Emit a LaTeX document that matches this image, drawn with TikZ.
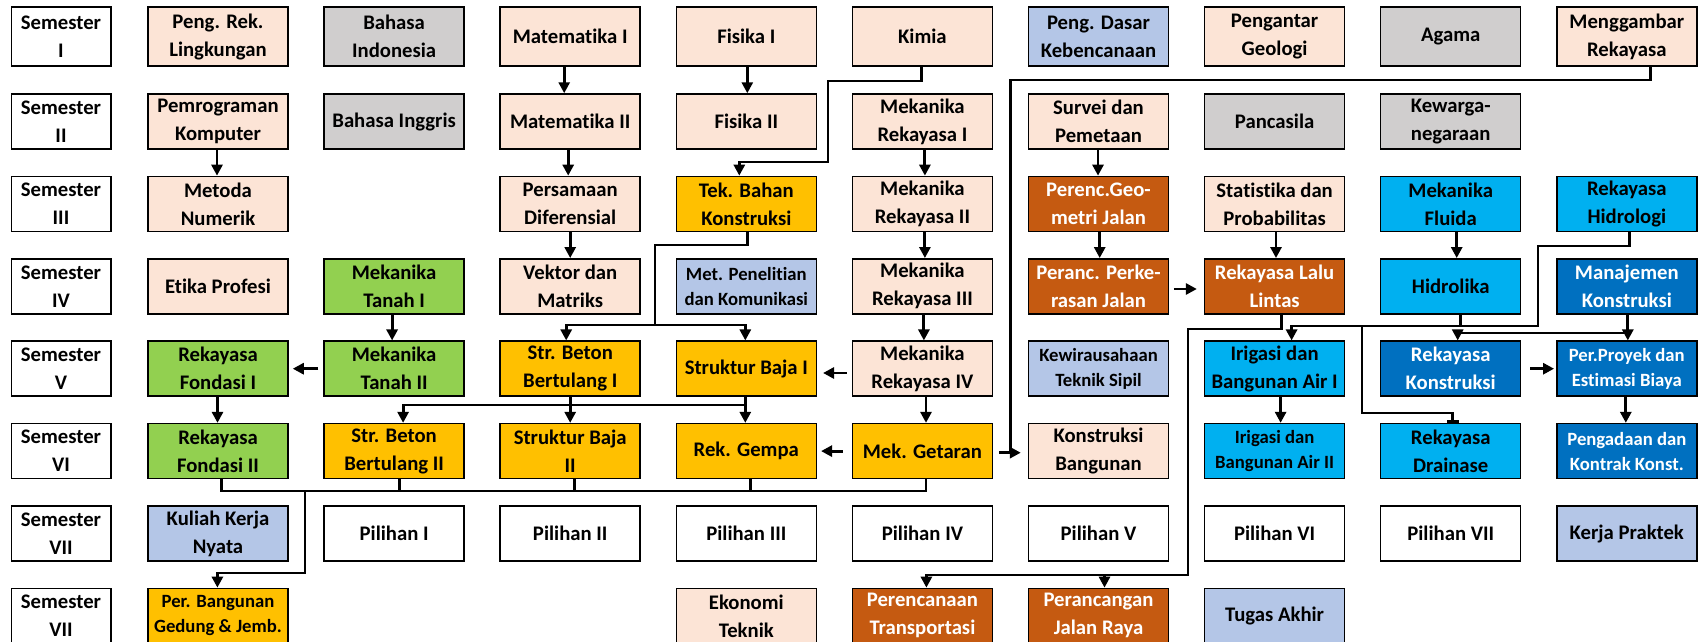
\documentclass[tikz,border=0pt]{standalone}
\usepackage{fontspec}
\setmainfont{Carlito}[Ligatures={NoCommon}]
\usetikzlibrary{arrows.meta,calc}
\definecolor{cpeach}{HTML}{FCE4D6}
\definecolor{cgray}{HTML}{D0CECE}
\definecolor{clav}{HTML}{B4C6E7}
\definecolor{cgreen}{HTML}{92D050}
\definecolor{cgold}{HTML}{FFC000}
\definecolor{corange}{HTML}{C55A11}
\definecolor{ccyan}{HTML}{00B0F0}
\definecolor{cblue}{HTML}{0070C0}
\newcommand\bodyfnt{\fontsize{20.7pt}{28pt}\selectfont\bfseries}
\newcommand\smallfnt{\fontsize{18.7pt}{25pt}\selectfont\bfseries}
\tikzset{
  box/.style={draw=black, line width=1.5pt, minimum width=140pt, minimum height=55pt,
    inner sep=0pt, align=center, font=\bodyfnt, text=black},
  tall/.style={minimum height=59pt},
  semb/.style={box, minimum width=99.5pt, fill=white},
  bxpeach/.style={box, fill=cpeach},
  bxgray/.style={box, fill=cgray},
  bxlav/.style={box, fill=clav},
  bxgreen/.style={box, fill=cgreen},
  bxgold/.style={box, fill=cgold},
  bxorange/.style={box, fill=corange, text=white},
  bxcyan/.style={box, fill=ccyan},
  bxblue/.style={box, fill=cblue, text=white},
  bxwhite/.style={box, fill=white},
  sm/.style={font=\smallfnt},
  conn/.style={line width=2.9pt, draw=black},
  arr/.style={conn, -{Triangle[width=11pt,length=11pt]}}
}
\begin{document}
\begin{tikzpicture}[x=1pt,y=-1pt]
\useasboundingbox[fill=white] (0,0) rectangle (1699,642);
% ---------- Row I
\node[semb,tall] (s1) at (61,36.5) {Semester\\I};
\node[bxpeach,tall] (plk) at (218,36.5) {Peng. Rek.\\Lingkungan};
\node[bxgray,tall] (bind) at (394.1,36.5) {Bahasa\\Indonesia};
\node[bxpeach,tall] (mat1) at (570.2,36.5) {Matematika I};
\node[bxpeach,tall] (fis1) at (746.3,36.5) {Fisika I};
\node[bxpeach,tall] (kim) at (922.4,36.5) {Kimia};
\node[bxlav,tall] (pdk) at (1098.5,36.5) {Peng. Dasar\\Kebencanaan};
\node[bxpeach,tall] (geo) at (1274.6,36.5) {Pengantar\\Geologi};
\node[bxgray,tall] (aga) at (1450.7,36.5) {Agama};
\node[bxpeach,tall] (mgr) at (1626.8,36.5) {Menggambar\\Rekayasa};
% ---------- Row II
\node[semb] (s2) at (61,121.5) {Semester\\II};
\node[bxpeach] (pkom) at (218,121.5) {Pemrograman\\Komputer};
\node[bxgray] (bing) at (394.1,121.5) {Bahasa Inggris};
\node[bxpeach] (mat2) at (570.2,121.5) {Matematika II};
\node[bxpeach] (fis2) at (746.3,121.5) {Fisika II};
\node[bxpeach] (mr1) at (922.4,121.5) {Mekanika\\Rekayasa I};
\node[bxpeach] (svy) at (1098.5,121.5) {Survei dan\\Pemetaan};
\node[bxgray] (pan) at (1274.6,121.5) {Pancasila};
\node[bxgray] (kwn) at (1450.7,121.5) {Kewarga-\\negaraan};
% ---------- Row III
\node[semb] (s3) at (61,203.9) {Semester\\III};
\node[bxpeach] (mnum) at (218,203.9) {Metoda\\Numerik};
\node[bxpeach] (pdif) at (570.2,203.9) {Persamaan\\Diferensial};
\node[bxgold] (tbk) at (746.3,203.9) {Tek. Bahan\\Konstruksi};
\node[bxpeach] (mr2) at (922.4,203.9) {Mekanika\\Rekayasa II};
\node[bxorange] (pgj) at (1098.5,203.9) {Perenc.Geo-\\metri Jalan};
\node[bxpeach] (stat) at (1274.6,203.9) {Statistika dan\\Probabilitas};
\node[bxcyan] (mfl) at (1450.7,203.9) {Mekanika\\Fluida};
\node[bxcyan] (rhid) at (1626.8,203.9) {Rekayasa\\Hidrologi};
% ---------- Row IV
\node[semb] (s4) at (61,286.3) {Semester\\IV};
\node[bxpeach] (etk) at (218,286.3) {Etika Profesi};
\node[bxgreen] (mt1) at (394.1,286.3) {Mekanika\\Tanah I};
\node[bxpeach] (vek) at (570.2,286.3) {Vektor dan\\Matriks};
\node[bxlav,sm] (mpk) at (746.3,286.3) {Met. Penelitian\\dan Komunikasi};
\node[bxpeach] (mr3) at (922.4,286.3) {Mekanika\\Rekayasa III};
\node[bxorange] (ppj) at (1098.5,286.3) {Peranc. Perke-\\rasan Jalan};
\node[bxorange] (rll) at (1274.6,286.3) {Rekayasa Lalu\\Lintas};
\node[bxcyan] (hid) at (1450.7,286.3) {Hidrolika};
\node[bxblue] (mjk) at (1626.8,286.3) {Manajemen\\Konstruksi};
% ---------- Row V
\node[semb] (s5) at (61,368.7) {Semester\\V};
\node[bxgreen] (rf1) at (218,368.7) {Rekayasa\\Fondasi I};
\node[bxgreen] (mt2) at (394.1,368.7) {Mekanika\\Tanah II};
\node[bxgold] (sbb1) at (570.2,368.7) {Str. Beton\\Bertulang I};
\node[bxgold] (sbj1) at (746.3,368.7) {Struktur Baja I};
\node[bxpeach] (mr4) at (922.4,368.7) {Mekanika\\Rekayasa IV};
\node[bxlav,sm] (kwt) at (1098.5,368.7) {Kewirausahaan\\Teknik Sipil};
\node[bxcyan] (iba1) at (1274.6,368.7) {Irigasi dan\\Bangunan Air I};
\node[bxblue] (rks) at (1450.7,368.7) {Rekayasa\\Konstruksi};
\node[bxblue,sm] (ppe) at (1626.8,368.7) {Per.Proyek dan\\Estimasi Biaya};
% ---------- Row VI
\node[semb] (s6) at (61,451.1) {Semester\\VI};
\node[bxgreen] (rf2) at (218,451.1) {Rekayasa\\Fondasi II};
\node[bxgold] (sbb2) at (394.1,451.1) {Str. Beton\\Bertulang II};
\node[bxgold] (sbj2) at (570.2,451.1) {Struktur Baja\\II};
\node[bxgold] (rgm) at (746.3,451.1) {Rek. Gempa};
\node[bxgold] (mgt) at (922.4,451.1) {Mek. Getaran};
\node[bxpeach] (kbg) at (1098.5,451.1) {Konstruksi\\Bangunan};
\node[bxcyan,sm] (iba2) at (1274.6,451.1) {Irigasi dan\\Bangunan Air II};
\node[bxcyan] (rdr) at (1450.7,451.1) {Rekayasa\\Drainase};
\node[bxblue,sm] (pkk) at (1626.8,451.1) {Pengadaan dan\\Kontrak Konst.};
% ---------- Row VII
\node[semb] (s7) at (61,533.5) {Semester\\VII};
\node[bxlav] (kkn) at (218,533.5) {Kuliah Kerja\\Nyata};
\node[bxwhite] (p1) at (394.1,533.5) {Pilihan I};
\node[bxwhite] (p2) at (570.2,533.5) {Pilihan II};
\node[bxwhite] (p3) at (746.3,533.5) {Pilihan III};
\node[bxwhite] (p4) at (922.4,533.5) {Pilihan IV};
\node[bxwhite] (p5) at (1098.5,533.5) {Pilihan V};
\node[bxwhite] (p6) at (1274.6,533.5) {Pilihan VI};
\node[bxwhite] (p7) at (1450.7,533.5) {Pilihan VII};
\node[bxlav] (kp) at (1626.8,533.5) {Kerja Praktek};
% ---------- Row VIII
\node[semb] (s8) at (61,615.9) {Semester\\VII};
\node[bxgold,sm] (pbg) at (218,615.9) {Per. Bangunan\\Gedung \& Jemb.};
\node[bxpeach] (ekt) at (746.3,615.9) {Ekonomi\\Teknik};
\node[bxorange] (ptr) at (922.4,615.9) {Perencanaan\\Transportasi};
\node[bxorange] (pjr) at (1098.5,615.9) {Perancangan\\Jalan Raya};
\node[bxlav] (ta) at (1274.6,615.9) {Tugas Akhir};

% ---------- connectors
\draw[arr] ([xshift=-6pt]mat1.south) -- ([xshift=-6pt]mat2.north);
\draw[arr] ([xshift=-2pt]mat2.south) -- ([xshift=-2pt]pdif.north);
\draw[arr] (pdif.south) -- (vek.north);
\draw[arr] ([xshift=-1pt]pkom.south) -- ([xshift=-1pt]mnum.north);
\draw[arr] ([xshift=1pt]fis1.south) -- ([xshift=1pt]fis2.north);
\draw[arr] ([xshift=-1pt]kim.south) |- (828,81) -- (828,162) -| ([xshift=-7pt]tbk.north);
\draw[arr] ([xshift=2.5pt]mr1.south) -- ([xshift=2.5pt]mr2.north);
\draw[arr] ([xshift=2.5pt]mr2.south) -- ([xshift=2.5pt]mr3.north);
\draw[arr] ([xshift=1.5pt]mr3.south) -- ([xshift=1.5pt]mr4.north);
\draw[arr] ([xshift=-2pt]mt1.south) -- ([xshift=-2pt]mt2.north);
% Tek. Bahan -> Str. Beton I, Struktur Baja I
\coordinate (busA) at (655,325);
\draw[arr] ([xshift=1pt]tbk.south) |- (655,245) -- (busA) -| ([xshift=-4pt]sbb1.north);
\draw[arr] (busA) -| ([xshift=-1pt]sbj1.north);
% horizontal arrows
\draw[arr, shorten <=5pt, shorten >=6pt] ([yshift=-4.3pt]mr4.west) -- ([yshift=-4.3pt]sbj1.east);
\draw[arr, shorten <=5pt, shorten >=4pt] (mt2.west) -- (rf1.east);
\draw[arr, shorten <=9pt, shorten >=4pt] (mgt.west) -- (rgm.east);
\draw[arr, shorten <=6pt, shorten >=7pt] ([yshift=-1.6pt]mgt.east) -- ([yshift=-1.6pt]kbg.west);
\draw[arr, shorten <=4.5pt, shorten >=7pt] ([yshift=-2.7pt]ppj.east) -- ([yshift=-2.7pt]rll.west);
\draw[arr, shorten <=9pt, shorten >=2pt] (rks.east) -- (ppe.west);
% Rekayasa Fondasi
\draw[arr] ([xshift=-0.5pt]rf1.south) -- ([xshift=-0.5pt]rf2.north);
% Str Beton I / Struktur Baja I -> row VI
\draw[arr] (sbb1.south) -- (sbj2.north);
\draw[arr] ([xshift=-1pt]sbj1.south) -- ([xshift=-1pt]rgm.north);
\coordinate (busB) at (745.3,405);
\draw[arr] (busB) -| ([xshift=9pt]sbb2.north);
% Mek Rek IV -> Mek Getaran
\draw[arr] ([xshift=3.6pt]mr4.south) -- ([xshift=3.6pt]mgt.north);
% Menggambar Rekayasa -> Konstruksi Bangunan
\draw[conn] ([xshift=24pt]mgr.south) |- (1010.5,80) -- (1010.5,454);
% bottom bus of row VI -> Per. Bangunan
\coordinate (busC) at (0,491);
\draw[conn] ([xshift=3.7pt]rf2.south) |- ([xshift=3.6pt]busC -| mgt.south) -- ([xshift=3.6pt]mgt.south);
\draw[conn] ([xshift=5pt]sbb2.south) -- ([xshift=5pt]sbb2.south |- busC);
\draw[conn] ([xshift=4pt]sbj2.south) -- ([xshift=4pt]sbj2.south |- busC);
\draw[conn] ([xshift=4pt]rgm.south) -- ([xshift=4pt]rgm.south |- busC);
\draw[arr] (305,491) -- (305,573) -| ([xshift=-0.6pt]pbg.north);
% Survei -> Perenc. Geometri -> Peranc. Perkerasan
\draw[arr] ([xshift=-0.5pt]svy.south) -- ([xshift=-0.5pt]pgj.north);
\draw[arr] ([xshift=1.2pt]pgj.south) -- ([xshift=1.2pt]ppj.north);
\draw[arr] ([xshift=1.4pt]stat.south) -- ([xshift=1.4pt]rll.north);
\draw[arr] ([xshift=6pt]mfl.south) -- ([xshift=6pt]hid.north);
% Rekayasa Lalu Lintas -> Perencanaan Transportasi, Perancangan Jalan Raya
\coordinate (busD) at (1104.5,575);
\draw[arr] ([xshift=6.5pt]rll.south) |- (1188,329) -- (1188,575) -| ([xshift=4pt]ptr.north);
\draw[arr] (busD) -- (busD |- pjr.north);
% Rekayasa Hidrologi / Hidrolika -> Irigasi I, Drainase
\coordinate (busE) at (1538,326);
\draw[arr] ([xshift=3pt]rhid.south) |- (1538,246) -- (busE) -| ([xshift=17pt]iba1.north);
\draw[conn] ([xshift=10pt]hid.south) -- ([xshift=10pt]hid.south |- busE);
\draw[conn] (1362,326) -- (1362,413) -| ([xshift=2pt]rdr.north);
\draw[conn] (1447,421.5) -- (1458.5,421.5);
% Manajemen -> Per.Proyek, Rekayasa Konstruksi
\draw[arr] ([xshift=1pt]mjk.south) -- ([xshift=1pt]ppe.north);
\coordinate (busF) at (1627.8,333);
\draw[arr] (busF) -| ([xshift=7pt]rks.north);
\draw[arr] ([xshift=-1pt]ppe.south) -- ([xshift=-1pt]pkk.north);
\draw[arr] ([xshift=6pt]iba1.south) -- ([xshift=6pt]iba2.north);
\end{tikzpicture}
\end{document}
